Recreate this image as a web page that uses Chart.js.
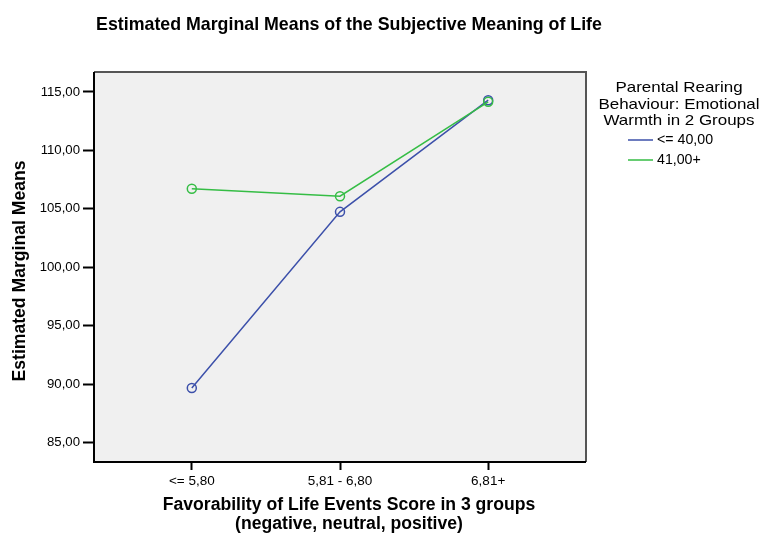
<!DOCTYPE html>
<html>
<head>
<meta charset="utf-8">
<script src="https://cdn.jsdelivr.net/npm/chart.js@4/dist/chart.umd.min.js"></script>
<style>
  html, body { margin: 0; padding: 0; background: #ffffff; }
  #wrap { width: 763px; height: 536px; }
</style>
</head>
<body>
<div id="wrap"><canvas id="c" width="763" height="536"></canvas></div>
<script>
const categories = ["<= 5,80", "5,81 - 6,80", "6,81+"];
const seriesLow = [89.68, 104.74, 114.29];
const seriesHigh = [106.71, 106.08, 114.15];
const seriesLabels = ["<= 40,00", "41,00+"];
const yTicks = [85, 90, 95, 100, 105, 110, 115];

const chartTitle = "Estimated Marginal Means of the Subjective Meaning of Life";
const yTitle = "Estimated Marginal Means";
const xTitle = ["Favorability of Life Events Score in 3 groups", "(negative, neutral, positive)"];
const legendTitle = ["Parental Rearing", "Behaviour: Emotional", "Warmth in 2 Groups"];

const BLUE = "#3c50aa";
const GREEN = "#35bd45";
const FONT = "'Liberation Sans', Arial, sans-serif";

const decor = {
  id: "decor",
  beforeDatasetsDraw(chart) {
    const {ctx, chartArea: a} = chart;
    ctx.save();
    ctx.fillStyle = "#f0f0f0";
    ctx.fillRect(a.left, a.top, a.right - a.left, a.bottom - a.top);
    ctx.restore();
  },
  afterDraw(chart) {
    const {ctx, chartArea: a} = chart;
    ctx.save();
    ctx.lineWidth = 2;
    ctx.strokeStyle = "#555555";
    ctx.beginPath();
    ctx.moveTo(a.left, a.top); ctx.lineTo(a.right, a.top); ctx.lineTo(a.right, a.bottom);
    ctx.stroke();
    ctx.strokeStyle = "#000000";
    ctx.beginPath();
    ctx.moveTo(a.left, a.top); ctx.lineTo(a.left, a.bottom); ctx.lineTo(a.right, a.bottom);
    ctx.stroke();

    ctx.fillStyle = "#000000";
    ctx.textAlign = "center";
    ctx.textBaseline = "alphabetic";
    ctx.font = "bold 17.8px " + FONT;
    ctx.fillText(chartTitle, 349, 30);
    ctx.font = "bold 17.6px " + FONT;
    ctx.fillText(xTitle[0], 349, 510);
    ctx.fillText(xTitle[1], 349, 529);
    ctx.save();
    ctx.translate(25, 271);
    ctx.rotate(-Math.PI / 2);
    ctx.fillText(yTitle, 0, 0);
    ctx.restore();
    ctx.font = "15px " + FONT;
    legendTitle.forEach((t, i) => {
      ctx.save();
      ctx.translate(679, 92 + i * 16.6);
      ctx.scale(1.13, 1);
      ctx.fillText(t, 0, 0);
      ctx.restore();
    });
    ctx.font = "14.2px " + FONT;
    ctx.textBaseline = "middle";
    chart.data.datasets.forEach((d, i) => {
      const y = 140 + i * 20;
      ctx.strokeStyle = d.borderColor;
      ctx.lineWidth = 1.5;
      ctx.beginPath();
      ctx.moveTo(628, y); ctx.lineTo(653, y);
      ctx.stroke();
      ctx.textAlign = "left";
      ctx.fillText(d.label, 657, y + 0.5);
    });
    ctx.restore();
  }
};

const toPoints = arr => arr.map((v, i) => ({x: i, y: v}));

new Chart(document.getElementById("c"), {
  type: "line",
  data: {
    datasets: [
      { label: seriesLabels[0], data: toPoints(seriesLow), borderColor: BLUE, backgroundColor: "rgba(0,0,0,0)",
        borderWidth: 1.5, pointRadius: 4.5, pointBorderWidth: 1.5, pointBackgroundColor: "rgba(0,0,0,0)",
        pointBorderColor: BLUE, tension: 0, order: 1 },
      { label: seriesLabels[1], data: toPoints(seriesHigh), borderColor: GREEN, backgroundColor: "rgba(0,0,0,0)",
        borderWidth: 1.5, pointRadius: 4.5, pointBorderWidth: 1.5, pointBackgroundColor: "rgba(0,0,0,0)",
        pointBorderColor: GREEN, tension: 0, order: 0 }
    ]
  },
  options: {
    responsive: false,
    animation: false,
    layout: { padding: { top: 72, right: 177, left: 0, bottom: 0 } },
    plugins: { legend: { display: false }, title: { display: false }, tooltip: { enabled: false } },
    scales: {
      x: {
        type: "linear", min: -0.66, max: 2.66,
        afterBuildTicks: s => { s.ticks = categories.map((c, i) => ({value: i})); },
        afterFit: s => { s.height = 74; },
        ticks: { callback: v => categories[v], color: "#000", font: { family: FONT, size: 13.5 }, padding: 3, maxRotation: 0, autoSkip: false },
        grid: { drawOnChartArea: false, drawTicks: true, tickLength: 8, tickColor: "#000", tickWidth: 2 },
        border: { display: false }
      },
      y: {
        min: 83.35, max: 116.7,
        afterBuildTicks: s => { s.ticks = yTicks.map(v => ({value: v})); },
        afterFit: s => { s.width = 94; },
        ticks: { callback: v => Number(v).toFixed(2).replace(".", ","), color: "#000", font: { family: FONT, size: 13.2 }, padding: 3 },
        grid: { drawOnChartArea: false, drawTicks: true, tickLength: 11, tickColor: "#000", tickWidth: 2 },
        border: { display: false }
      }
    }
  },
  plugins: [decor]
});
</script>
</body>
</html>
